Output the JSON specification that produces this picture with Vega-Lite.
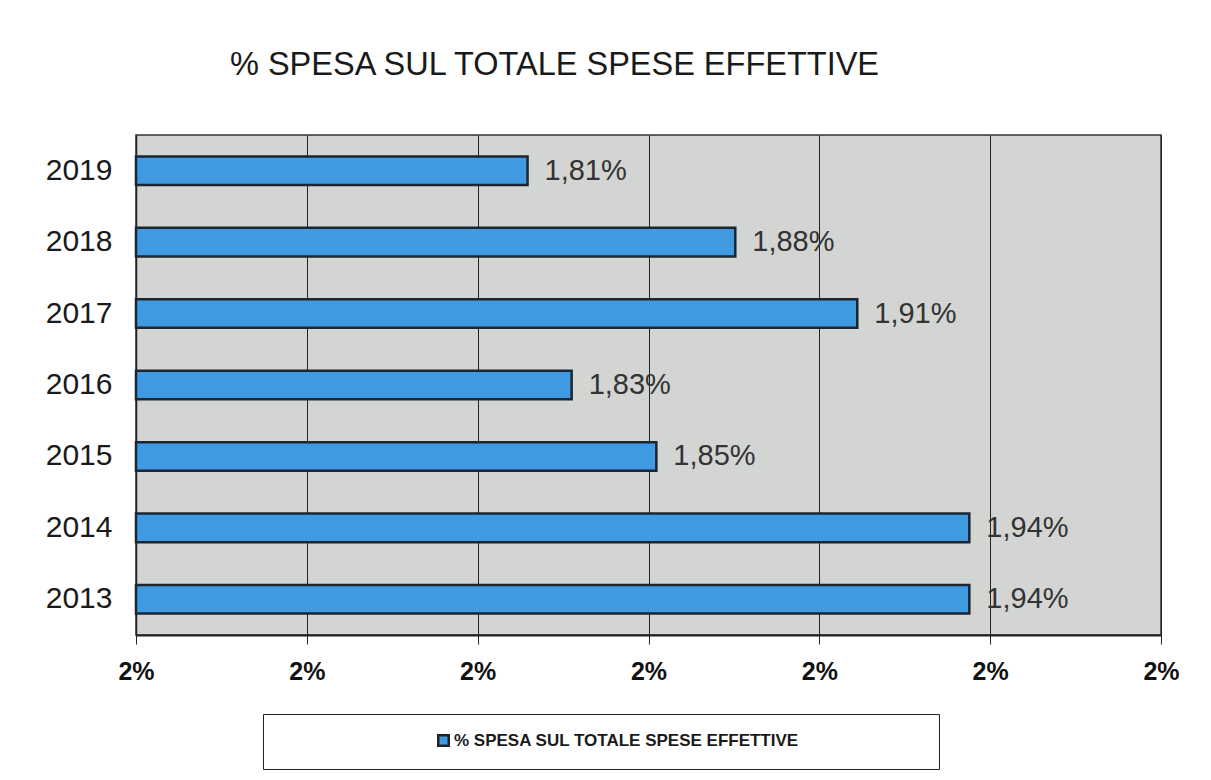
{
  "$schema": "https://vega.github.io/schema/vega-lite/v6.json",
  "autosize": {"type": "none"},
  "width": 1025,
  "height": 500,
  "padding": {"left": 136, "top": 135, "right": 50, "bottom": 145},
  "background": "white",
  "title": {
    "text": "% SPESA SUL TOTALE SPESE EFFETTIVE",
    "anchor": "start",
    "frame": "group",
    "dx": 94,
    "offset": 54,
    "font": "Liberation Sans",
    "fontSize": 32.5,
    "fontWeight": "normal",
    "color": "#1a1a1a"
  },
  "data": {
    "values": [
      {"anno": "2019", "valore": 1.8146, "etichetta": "1,81%"},
      {"anno": "2018", "valore": 1.8754, "etichetta": "1,88%"},
      {"anno": "2017", "valore": 1.9111, "etichetta": "1,91%"},
      {"anno": "2016", "valore": 1.8275, "etichetta": "1,83%"},
      {"anno": "2015", "valore": 1.8523, "etichetta": "1,85%"},
      {"anno": "2014", "valore": 1.9439, "etichetta": "1,94%"},
      {"anno": "2013", "valore": 1.9439, "etichetta": "1,94%"}
    ]
  },
  "encoding": {
    "y": {
      "field": "anno",
      "type": "nominal",
      "sort": ["2019", "2018", "2017", "2016", "2015", "2014", "2013"],
      "scale": {"paddingInner": 0.6, "paddingOuter": 0.3},
      "axis": {
        "title": null,
        "labelFont": "Liberation Sans",
        "labelFontSize": 30,
        "labelColor": "#1a1a1a",
        "labelPadding": 24,
        "ticks": false,
        "domainColor": "#222",
        "domainWidth": 1.5
      }
    },
    "x": {
      "field": "valore",
      "type": "quantitative",
      "scale": {"domain": [1.7, 2.0], "zero": false, "nice": false},
      "axis": {
        "title": null,
        "values": [1.7, 1.75, 1.8, 1.85, 1.9, 1.95, 2.0],
        "labelExpr": "format(datum.value, '.0f') + '%'",
        "labelFont": "Liberation Sans",
        "labelFontSize": 25,
        "labelFontWeight": "bold",
        "labelColor": "#111",
        "labelPadding": 15,
        "labelFlush": false,
        "tickColor": "#222",
        "tickSize": 9,
        "domainColor": "#222",
        "domainWidth": 2,
        "grid": true,
        "gridColor": "#222",
        "gridWidth": 1
      }
    }
  },
  "layer": [
    {
      "mark": {"type": "bar", "stroke": "#1c2530", "strokeWidth": 2.5},
      "encoding": {
        "x2": {"datum": 1.7},
        "color": {
          "datum": "% SPESA SUL TOTALE SPESE EFFETTIVE",
          "scale": {"range": ["#3f9ae2"]},
          "legend": {
            "orient": "none",
            "legendX": 127,
            "legendY": 579,
            "title": "\u00a0",
            "titleOrient": "right",
            "titlePadding": 122,
            "titleFontSize": 2,
            "strokeColor": "#222",
            "fillColor": "white",
            "padding": 18,
            "symbolOffset": 154,
            "symbolType": "square",
            "symbolSize": 110,
            "symbolStrokeColor": "#222",
            "symbolStrokeWidth": 2.5,
            "labelFont": "Liberation Sans",
            "labelFontSize": 17,
            "labelFontWeight": "bold",
            "labelColor": "#1a1a1a",
            "labelLimit": 600,
            "labelOffset": 2
          }
        }
      }
    },
    {
      "mark": {"type": "text", "align": "left", "baseline": "middle", "dx": 17, "font": "Liberation Sans", "fontSize": 29, "color": "#333"},
      "encoding": {"text": {"field": "etichetta"}}
    }
  ],
  "config": {
    "view": {"fill": "#d3d5d3", "stroke": "#333", "strokeWidth": 1.5}
  }
}
